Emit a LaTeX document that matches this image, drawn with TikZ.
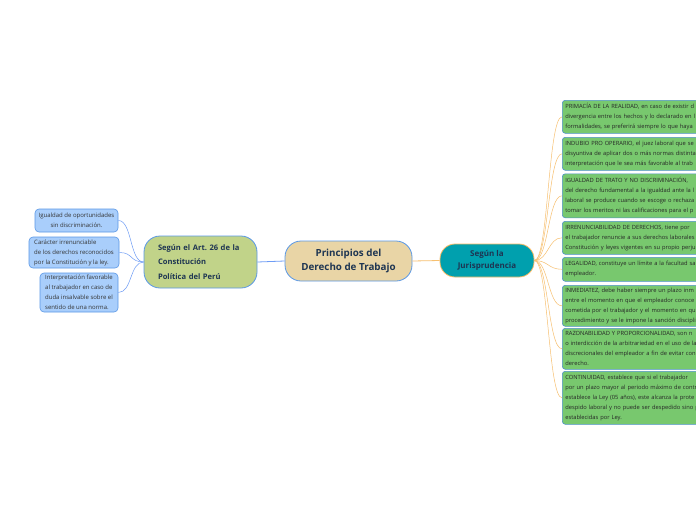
\documentclass[tikz,border=0pt]{standalone}
\usepackage{fontspec}
\setmainfont{Open Sans}
\frenchspacing
\begin{document}
\begin{tikzpicture}[x=1pt,y=-1pt,
  rbox/.style={draw=rbord,fill=rfill,rounded corners=3pt,line width=0.6pt,anchor=north west,
    align=left,inner xsep=3pt,inner ysep=0pt,font=\fontsize{5.75}{10}\selectfont,text=black!85,text width=170pt},
  lbox/.style={draw=lbord,fill=lfill,rounded corners=4pt,line width=0.6pt,
    inner xsep=3pt,inner ysep=0pt,font=\fontsize{6}{10}\selectfont,text=black!80},
  oline/.style={draw=oline,line width=0.5pt},
  bline/.style={draw=bline,line width=0.5pt}]
\definecolor{rfill}{HTML}{78C86E}
\definecolor{rbord}{HTML}{4F92C8}
\definecolor{lfill}{HTML}{A9CEFB}
\definecolor{lbord}{HTML}{5A98E6}
\definecolor{oline}{HTML}{F7C070}
\definecolor{bline}{HTML}{6E9CF5}
\definecolor{tanfill}{HTML}{E9D5A6}
\definecolor{olive}{HTML}{C1D389}
\definecolor{teal}{HTML}{00A0AE}
\definecolor{navy}{HTML}{1E3552}
\path[use as bounding box,clip] (0,0) rectangle (696,520);
\fill[white] (0,0) rectangle (696,520);

% central nodes
\node[draw=lbord,fill=tanfill,rounded corners=16pt,line width=0.8pt,minimum width=127pt,minimum height=40pt,
  align=center,font=\fontsize{9.8}{13.5}\selectfont\bfseries,text=navy] (p) at (348.5,261) {Principios del\\Derecho de Trabajo};
\node[draw=oline!90!orange,fill=teal,rounded corners=15pt,line width=0.8pt,minimum width=94pt,minimum height=33pt,
  align=center,font=\fontsize{8}{12}\selectfont\bfseries,text=navy] (j) at (487,260.5) {Según la\\Jurisprudencia};
\node[draw=lbord,fill=olive,rounded corners=16pt,line width=0.8pt,minimum width=113pt,minimum height=52pt,
  align=left,text width=85pt,inner xsep=14pt,font=\fontsize{7.6}{14.5}\selectfont\bfseries,text=navy] (a) at (200.5,262) {Según el Art. 26 de la\\Constitución\\Política del Perú};

\draw[bline,line width=0.8pt] (a.east) -- (p.west);
\draw[oline,line width=0.8pt] (p.east) -- (j.west);

% left boxes
\node[lbox,minimum width=83pt,minimum height=23pt,align=center] (l1) at (76.5,220.5) {Igualdad de oportunidades\\sin discriminación.};
\node[lbox,minimum width=90pt,minimum height=31pt,align=left] (l2) at (74,252.5) {Carácter irrenunciable\\de los derechos reconocidos\\por la Constitución y la ley.};
\node[lbox,minimum width=78pt,minimum height=39pt,align=left] (l3) at (79,292.5) {Interpretación favorable\\al trabajador en caso de\\duda insalvable sobre el\\sentido de una norma.};

\foreach \n in {l1,l2,l3}
  \draw[bline] (a.west) .. controls +(-14,0) and +(14,0) .. (\n.east);

% right boxes
\node[rbox,minimum height=33pt] (r1) at (562,100) {PRIMACÍA DE LA REALIDAD, en caso de existir d\\divergencia entre los hechos y lo declarado en l\\formalidades, se preferirá siempre lo que haya};
\node[rbox,minimum height=33pt] (r2) at (562,137) {INDUBIO PRO OPERARIO, el juez laboral que se\\disyuntiva de aplicar dos o más normas distinta\\interpretación que le sea más favorable al  trab};
\node[rbox,minimum height=44pt] (r3) at (562,173.5) {IGUALDAD DE TRATO Y NO DISCRIMINACIÓN, \\del derecho fundamental a la igualdad ante la l\\laboral se produce cuando se escoge o rechaza\\tomar  los meritos ni las calificaciones para el p};
\node[rbox,minimum height=33pt] (r4) at (562,221) {IRRENUNCIABILIDAD DE DERECHOS, tiene por\\el trabajador renuncie a sus derechos laborales\\Constitución y leyes vigentes en su propio perju};
\node[rbox,minimum height=24pt] (r5) at (562,257) {LEGALIDAD, constituye un límite a la facultad sa\\empleador.};
\node[rbox,minimum height=41pt] (r6) at (562,285) {INMEDIATEZ, debe haber siempre un plazo inm\\entre el momento en que el empleador conoce\\cometida por el trabajador y el momento en qu\\procedimiento y se le impone la sanción discipli};
\node[rbox,minimum height=41pt] (r7) at (562,328) {RAZONABILIDAD Y PROPORCIONALIDAD, son n\\o interdicción de la arbitrariedad en el uso de la\\discrecionales del empleador a fin de evitar con\\derecho.};
\node[rbox,minimum height=53pt] (r8) at (562,371) {CONTINUIDAD,  establece que si el trabajador\\por un plazo mayor al periodo máximo de contr\\establece la Ley (05 años), este alcanza la prote\\despido laboral y no puede ser despedido sino p\\establecidas por Ley.};

\foreach \n in {r1,r2,r3,r4,r5,r6,r7,r8}
  \draw[oline] (j.east) .. controls +(14,0) and +(-14,0) .. (\n.west);
\end{tikzpicture}
\end{document}
